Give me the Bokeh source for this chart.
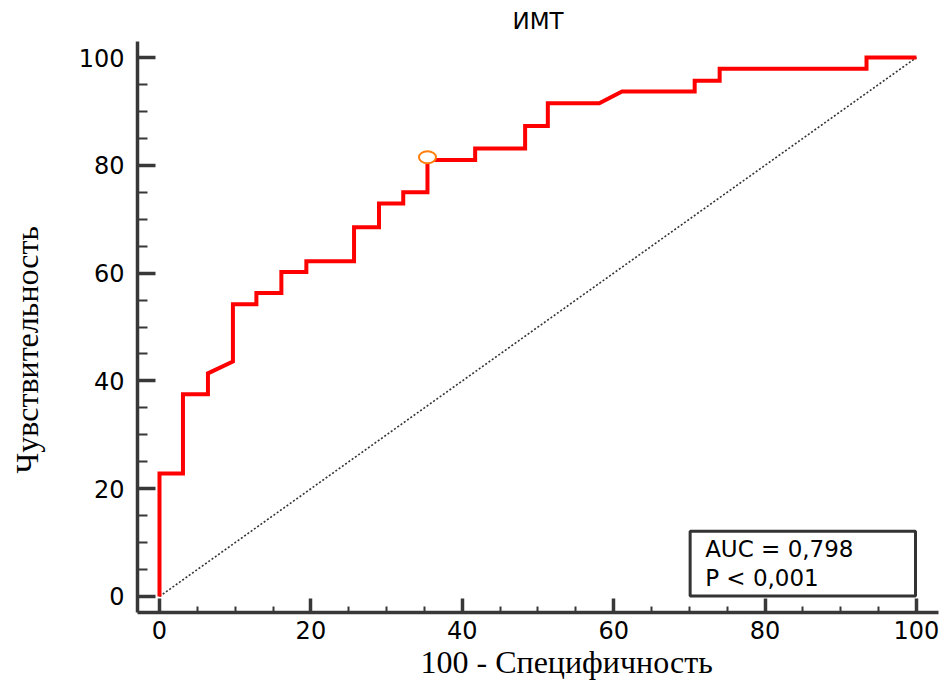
import numpy as np
from bokeh.plotting import figure
from bokeh.models import (Range1d, SingleIntervalTicker, FixedTicker, Label, Title,
                          LinearAxis)
from bokeh.embed import file_html
from bokeh.resources import INLINE

# ---- data ----
title_text = "ИМТ"
x_label = "100 - Специфичность"
y_label = "Чувствительность"
auc_text = "AUC = 0,798\nP < 0,001"

fpr = [0, 0, 3.1, 3.1, 6.4, 6.4, 9.7, 9.7, 12.8, 12.8, 16.1, 16.1, 19.4, 19.4,
       25.7, 25.7, 29.0, 29.0, 32.2, 32.2, 35.4, 35.4, 41.7, 41.7, 48.3, 48.3,
       51.3, 51.3, 58.1, 61.1, 70.7, 70.7, 74.0, 74.0, 93.4, 93.4, 100]
tpr = [0, 22.8, 22.8, 37.5, 37.5, 41.4, 43.6, 54.2, 54.2, 56.3, 56.3, 60.2, 60.2, 62.2,
       62.2, 68.5, 68.5, 72.9, 72.9, 75.0, 75.0, 81.0, 81.0, 83.1, 83.1, 87.3,
       87.3, 91.5, 91.5, 93.7, 93.7, 95.7, 95.7, 97.9, 97.9, 100, 100]

ref_x = [0, 100]
ref_y = [0, 100]

cut_x = [35.4]
cut_y = [81.5]

W, H = 945, 688
p = figure(width=W, height=H, output_backend="svg", toolbar_location=None,
           x_range=Range1d(-2.906, 102.91), y_range=Range1d(-2.97, 102.97),
           min_border_left=137, min_border_right=7, min_border_top=41,
           min_border_bottom=76)
p.background_fill_color = "white"
p.border_fill_color = "white"
p.outline_line_color = None
p.grid.visible = False

p.title.text = title_text
p.title.align = "center"
p.title.text_font = "DejaVu Sans"
p.title.text_font_size = "23px"
p.title.text_font_style = "normal"
p.title.text_color = "black"
p.title.vertical_align = "top"
p.title.standoff = 12

axis_color = "#383838"
for ax, major_in, minor_in in ((p.xaxis[0], 14, 6), (p.yaxis[0], 18, 10)):
    ax.ticker = SingleIntervalTicker(interval=20, num_minor_ticks=4)
    ax.axis_line_color = axis_color
    ax.axis_line_width = 3.5
    ax.major_tick_line_color = axis_color
    ax.major_tick_line_width = 3.5
    ax.minor_tick_line_color = axis_color
    ax.minor_tick_line_width = 2
    ax.major_tick_in = major_in
    ax.major_tick_out = 0
    ax.minor_tick_in = minor_in
    ax.minor_tick_out = 0
    ax.major_label_text_font = "DejaVu Sans"
    ax.major_label_text_font_size = "24px"
    ax.major_label_text_color = "black"

p.xaxis.major_label_standoff = 8
p.yaxis.major_label_standoff = 13

# blank spacer between the y tick labels and the y title
spacer = LinearAxis(ticker=FixedTicker(ticks=[50]), major_label_overrides={50: ""},
                    axis_line_color=None, major_tick_line_color="white",
                    minor_tick_line_color=None, major_tick_in=0, major_tick_out=21,
                    minor_tick_in=0, minor_tick_out=0, major_label_standoff=0)
p.add_layout(spacer, "left")

# axis titles (side titles so they can be offset like the original)
p.add_layout(Title(text=x_label, align="left", offset=283,
                   text_font="Liberation Serif", text_font_size="32px",
                   text_font_style="normal", text_color="black",
                   vertical_align="bottom", standoff=0), "below")
p.add_layout(Title(text=y_label, align="left", offset=139,
                   text_font="Liberation Serif", text_font_size="32px",
                   text_font_style="normal", text_color="black",
                   vertical_align="top", standoff=16), "left")

# diagonal reference line
p.line(ref_x, ref_y, line_color="#333333", line_width=1.6, line_dash="2 2")

# ROC curve
p.line(fpr, tpr, line_color="#ff0000", line_width=4, line_join="miter")

# optimal cut-off marker
p.ellipse(x=cut_x, y=cut_y, width=17, height=12, width_units="screen",
          height_units="screen", fill_color="white", line_color="#ff7f0e",
          line_width=2)

# AUC box
p.add_layout(Label(x=70.1, y=12.1, text=auc_text, text_font="DejaVu Sans",
                   text_font_size="23px", text_align="left", text_baseline="top",
                   text_line_height=1.1, text_color="black",
                   border_line_color="#333333", border_line_width=3,
                   background_fill_color="white",
                   padding=dict(left=15, right=62, top=5, bottom=5)))

open("out.html", "w").write(file_html(p, INLINE))
